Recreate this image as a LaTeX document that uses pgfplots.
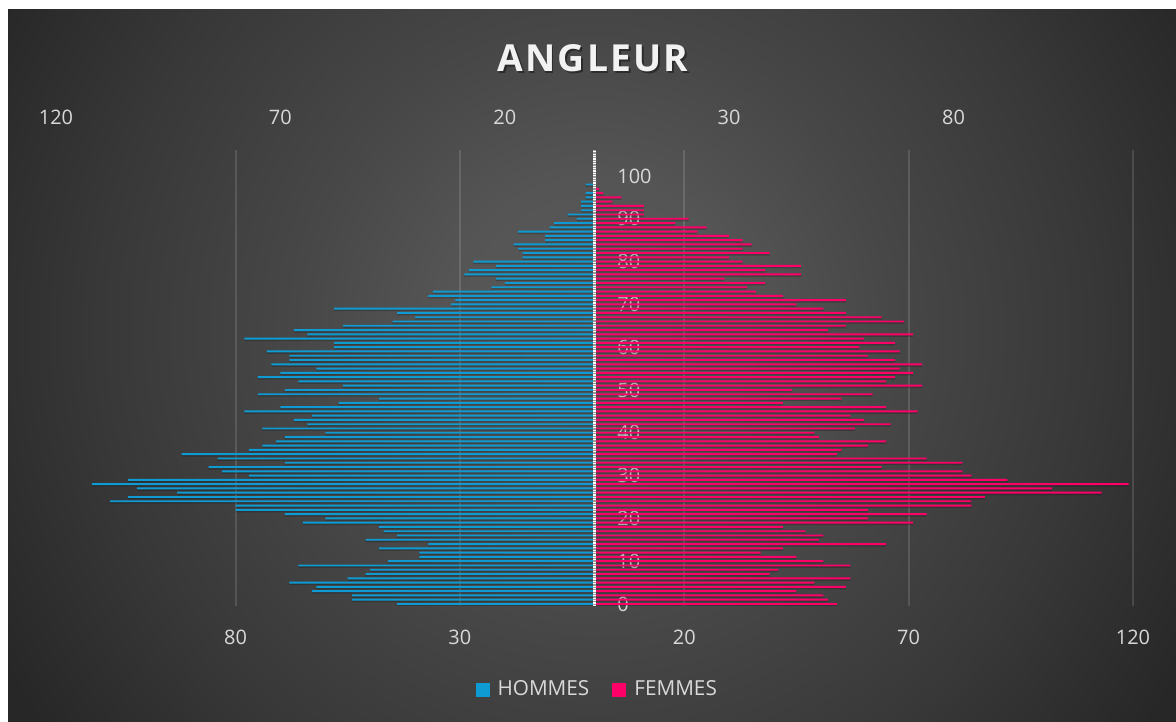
\documentclass[border=0pt]{standalone}
\usepackage{fontspec}
\setmainfont{Open Sans}
\newfontfamily\titlefont[LetterSpace=6]{Open Sans}
\usepackage{pgfplots}
\usepackage{pgfplotstable}
\pgfplotsset{compat=1.18}
\definecolor{hblue}{HTML}{0E9BD3}
\definecolor{fpink}{HTML}{FF0068}
\definecolor{bg0}{HTML}{5A5A5A}
\definecolor{bg1}{HTML}{555555}
\definecolor{bg2}{HTML}{474747}
\definecolor{bg3}{HTML}{383838}
\definecolor{bg4}{HTML}{272727}
\definecolor{ticktxt}{HTML}{D9D9D9}
\pgfdeclareradialshading{bgshade}{\pgfpoint{0bp}{0bp}}{color(0bp)=(bg0); color(5.2bp)=(bg1); color(10.4bp)=(bg2); color(17.2bp)=(bg3); color(23.6bp)=(bg4); color(50bp)=(bg4)}

\pgfplotstableread{
age men women
0 44 54
1 54 52
2 54 51
3 63 45
4 62 56
5 68 49
6 55 57
7 51 39
8 50 41
9 66 57
10 46 51
11 39 45
12 39 37
13 48 42
14 37 65
15 51 50
16 44 51
17 47 47
18 48 42
19 65 71
20 60 61
21 69 74
22 80 61
23 80 84
24 108 84
25 104 87
26 93 113
27 102 102
28 112 119
29 104 92
30 77 84
31 83 82
32 86 64
33 69 82
34 84 74
35 92 54
36 77 55
37 74 61
38 71 65
39 69 50
40 60 49
41 74 58
42 64 66
43 67 60
44 63 57
45 78 72
46 70 65
47 57 42
48 48 55
49 75 62
50 69 44
51 56 73
52 66 65
53 75 67
54 70 71
55 62 68
56 72 73
57 68 67
58 68 61
59 73 68
60 58 59
61 58 67
62 78 60
63 64 71
64 67 52
65 56 56
66 45 69
67 40 64
68 44 56
69 58 51
70 32 45
71 31 56
72 37 42
73 36 36
74 23 34
75 20 38
76 22 29
77 29 46
78 28 38
79 22 46
80 27 33
81 16 30
82 16 39
83 17 33
84 18 35
85 11 33
86 11 30
87 17 23
88 10 25
89 9 18
90 4 21
91 6 11
92 3 11
93 3 11
94 3 4
95 2 6
96 2 2
97 0 1
98 2 0
}\pyramid

\pgfplotsset{
  pyrbase/.style={
    at={(28bp,58bp)}, anchor=south west, scale only axis,
    width=538.5bp, height=228bp,
    xmin=-120, xmax=120, ymin=-0.47, ymax=106.07,
    axis line style={draw=none}, major tick length=0,
  }
}

\begin{document}
\begin{tikzpicture}
\fill[white] (0bp,0bp) rectangle (588bp,361bp);
\begin{scope}
\clip (4bp,0bp) rectangle (588bp,356bp);
\shade[shading=bgshade] (297bp-360bp,196bp-360bp) rectangle (297bp+360bp,196bp+360bp);
\end{scope}
\node[text=black, opacity=0.4, inner sep=0] at (297.3bp,331.1bp) {\titlefont\fontsize{18.7}{22}\selectfont\bfseries ANGLEUR};
\node[text=white!95!black, inner sep=0] at (296.5bp,331.9bp) {\titlefont\fontsize{18.7}{22}\selectfont\bfseries ANGLEUR};

% top axis labels
\begin{axis}[pyrbase,
  xtick={-120,-70,-20,30,80}, xticklabels={120,70,20,30,80},
  xticklabel pos=upper,
  xticklabel style={anchor=center, yshift=16.5bp, text=ticktxt, font=\fontsize{10}{12}\selectfont},
  ytick=\empty,
]
\addplot[draw=none] coordinates {(0,0)};
\end{axis}

\begin{axis}[pyrbase,
  xtick={-80,-30,20,70,120}, xticklabels={80,30,20,70,120},
  xticklabel style={anchor=center, yshift=-15.5bp, text=ticktxt, font=\fontsize{10}{12}\selectfont},
  xmajorgrids, grid style={white, opacity=0.13, line width=1bp},
  ytick={0,10,...,100}, yticklabels={0,10,20,30,40,50,60,70,80,90,100},
  yticklabel style={anchor=west, xshift=277.2bp, text=ticktxt, font=\fontsize{10}{12}\selectfont},
  legend style={at={(axis description cs:0.503,-0.184)}, anchor=center, draw=none, fill=none,
    legend columns=2, text=ticktxt, font=\fontsize{10.4}{12}\selectfont,
    /tikz/every even column/.append style={column sep=10bp},
    nodes={inner sep=1.5bp}},
  legend image code/.code={\fill[#1] (0bp,-3.5bp) rectangle (7bp,3.5bp); \path (9.5bp,0bp);},
]
\addplot[xbar, bar width=0.6, bar shift=0pt, fill=black, draw=none, opacity=0.2, yshift=-0.6bp, forget plot]
  table[x expr=-\thisrow{men}, y=age] {\pyramid};
\addplot[xbar, bar width=0.6, bar shift=0pt, fill=black, draw=none, opacity=0.2, yshift=-0.6bp, forget plot]
  table[x=women, y=age] {\pyramid};
\addplot[xbar, bar width=0.45, bar shift=0pt, fill=hblue, draw=none]
  table[x expr=-\thisrow{men}, y=age] {\pyramid};
\addlegendentry{HOMMES}
\addplot[xbar, bar width=0.45, bar shift=0pt, fill=fpink, draw=none]
  table[x=women, y=age] {\pyramid};
\addlegendentry{FEMMES}
\draw[line width=1.6bp, color=white!60!black] (axis cs:0,-0.47) -- (axis cs:0,106.07);
\draw[line width=1.6bp, color=white, dash pattern=on 0.6bp off 0.6bp] (axis cs:0,-0.47) -- (axis cs:0,106.07);
\end{axis}
\end{tikzpicture}
\end{document}
